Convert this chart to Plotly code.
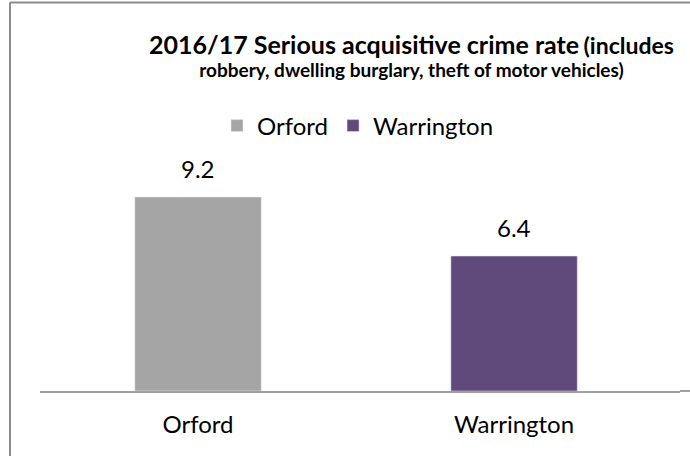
import plotly.graph_objects as go

categories = ["Orford", "Warrington"]
values = [9.2, 6.4]
colors = ["#A5A5A5", "#604A7B"]
title_main = "2016/17 Serious acquisitive crime rate"
title_small = "(includes"
title_line2 = "robbery, dwelling burglary, theft of motor vehicles)"

W, H = 690, 456
ML, MR, MT, MB = 40, 10, 100, 65
FONT = "Lato"
Y_MAX = 13.8

fig = go.Figure()
for c, v, col in zip(categories, values, colors):
    fig.add_trace(go.Bar(
        x=[c], y=[v], name=c, marker_color=col, width=0.4,
        showlegend=True,
    ))
    fig.add_annotation(x=c, y=v, text=f"{v:.1f}", showarrow=False,
                       yanchor="bottom", yshift=12,
                       font=dict(family=FONT, size=24, color="#000"))

pw = W - ML - MR
ph = H - MT - MB

def px_x(px):
    return (px - ML) / pw

def px_y(py):
    return (H - MB - py) / ph

# title (two lines in one text)
fig.add_annotation(xref="paper", yref="paper", x=px_x(411), y=px_y(55),
                   text=(f"<b><span style='font-size:25px'>{title_main}</span> "
                         f"<span style='font-size:23px'>{title_small}</span><br>"
                         f"<span style='font-size:19px'>{title_line2}</span></b>"),
                   showarrow=False, xanchor="center", yanchor="middle", align="center",
                   font=dict(family=FONT, size=18, color="#000"))

# border lines (top and left)
fig.add_shape(type="line", xref="paper", yref="paper",
              x0=px_x(10), x1=px_x(W), y0=px_y(2.5), y1=px_y(2.5),
              line=dict(color="#8C8C8C", width=2))
fig.add_shape(type="line", xref="paper", yref="paper",
              x0=px_x(10), x1=px_x(10), y0=px_y(2.5), y1=px_y(H),
              line=dict(color="#8C8C8C", width=2))
# extend the category axis baseline to the right edge
fig.add_shape(type="line", xref="paper", yref="paper",
              x0=1, x1=px_x(W), y0=0, y1=0,
              line=dict(color="#A0A0A0", width=2))

fig.update_layout(
    width=W, height=H,
    margin=dict(l=ML, r=MR, t=MT, b=MB, pad=0, autoexpand=False),
    plot_bgcolor="white", paper_bgcolor="white",
    font=dict(family=FONT, size=24, color="#000"),
    barmode="overlay",
    legend=dict(orientation="h", xref="paper", yref="paper",
                x=px_x(358), y=px_y(126), xanchor="center", yanchor="middle",
                font=dict(family=FONT, size=24), itemwidth=30,
                bgcolor="rgba(0,0,0,0)"),
    showlegend=True,
)
fig.update_xaxes(range=[-0.5, 1.525], showline=True, linecolor="#A0A0A0",
                 linewidth=2, showgrid=False, ticks="outside", ticklen=11,
                 tickcolor="rgba(0,0,0,0)", tickfont=dict(family=FONT, size=24),
                 fixedrange=True, automargin=False, zeroline=False)
fig.update_yaxes(range=[0, Y_MAX], visible=False, showgrid=False, fixedrange=True,
                 zeroline=False)

PAGE_CSS = ("html,body{margin:0;padding:0;overflow:hidden;height:456px;}"
            "::-webkit-scrollbar{display:none;width:0;height:0;}")
fig.write_html("out.html", config={"displayModeBar": False},
               post_script=("var st=document.createElement('style');"
                            f"st.textContent='{PAGE_CSS}';"
                            "document.head.appendChild(st);"))
